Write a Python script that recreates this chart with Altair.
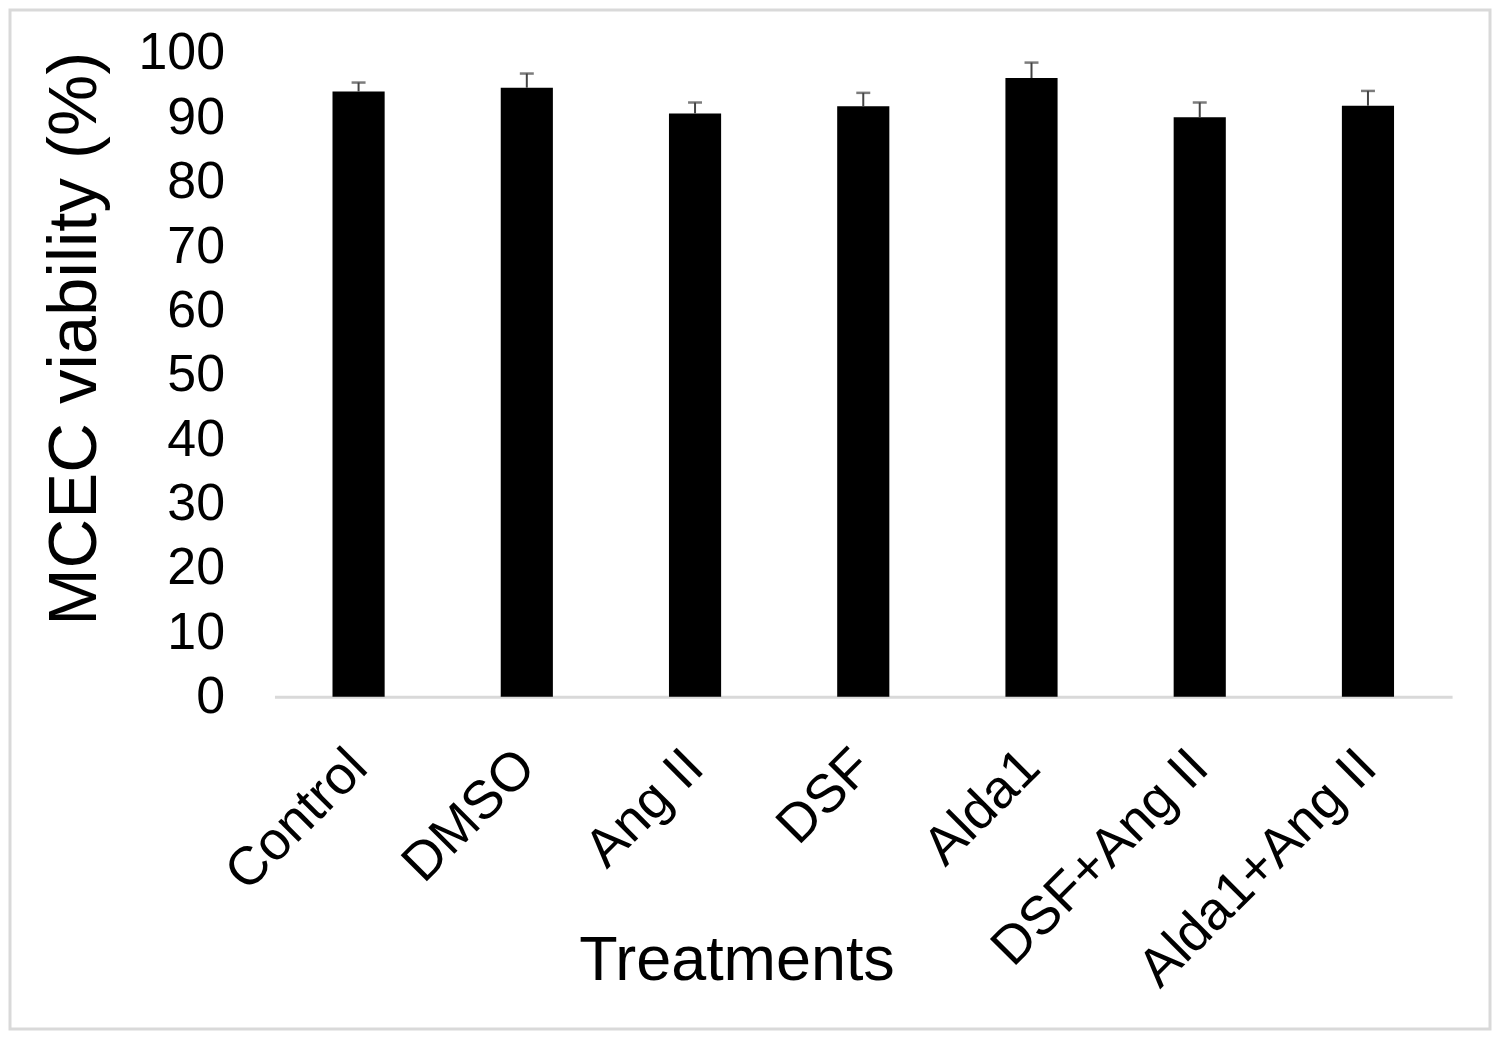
import altair as alt
import pandas as pd

treatments = ["Control", "DMSO", "Ang II", "DSF", "Alda1", "DSF+Ang II", "Alda1+Ang II"]
viability = [94.0, 94.6, 90.6, 91.7, 96.1, 90.0, 91.8]
sem = [1.4, 2.2, 1.7, 2.1, 2.4, 2.3, 2.3]

df = pd.DataFrame({"Treatment": treatments, "Viability": viability, "SEM": sem})

FONT = "Liberation Sans"

x_enc = alt.X(
    "Treatment:N",
    sort=treatments,
    scale=alt.Scale(paddingInner=0.69, paddingOuter=0.345),
    axis=alt.Axis(
        title="Treatments",
        titleFontSize=63,
        titleFont=FONT,
        titleFontWeight="normal",
        titleColor="#000000",
        titleX=463,
        titleY=283,
        titleAnchor="start",
        titleAlign="center",
        titleBaseline="alphabetic",
        labelAngle=-45,
        labelAlign="right",
        labelBaseline="middle",
        labelFontSize=54,
        labelFont=FONT,
        labelColor="#000000",
        labelPadding=62,
        labelLimit=0,
        labelOverlap=False,
        ticks=False,
        domain=True,
        domainColor="#d9d9d9",
        domainWidth=3,
        grid=False,
    ),
)

y_scale = alt.Scale(domain=[0, 100], nice=False)

bars = alt.Chart(df).mark_bar(color="#000000").encode(
    x=x_enc,
    y=alt.Y(
        "Viability:Q",
        scale=y_scale,
        axis=alt.Axis(
            title="MCEC viability (%)",
            titleFontSize=69,
            titleFont=FONT,
            titleFontWeight="normal",
            titleColor="#000000",
            titleAngle=-90,
            titleX=-200,
            titleY=286,
            titleAlign="center",
            titleBaseline="middle",
            values=list(range(0, 101, 10)),
            labelFontSize=52,
            labelFont=FONT,
            labelColor="#000000",
            labelPadding=50,
            ticks=False,
            domain=False,
            grid=False,
        ),
    ),
)

err_rule = alt.Chart(df).transform_calculate(
    upper="datum.Viability + datum.SEM"
).mark_rule(color="#444444", strokeWidth=2).encode(
    x=alt.X("Treatment:N", sort=treatments),
    y=alt.Y("Viability:Q", scale=y_scale),
    y2="upper:Q",
)

err_cap = alt.Chart(df).transform_calculate(
    upper="datum.Viability + datum.SEM"
).mark_tick(color="#444444", thickness=2.5, size=14, orient="horizontal").encode(
    x=alt.X("Treatment:N", sort=treatments),
    y=alt.Y("upper:Q", scale=y_scale),
)

frame = alt.Chart(pd.DataFrame({"k": [0]})).mark_rect(
    fill="transparent", stroke="#d9d9d9", strokeWidth=3, clip=False
).encode(
    x=alt.value(-265),
    x2=alt.value(1218),
    y=alt.value(-43),
    y2=alt.value(978),
)

chart = alt.layer(frame, bars, err_rule, err_cap).properties(
    width=1180,
    height=645,
    background="white",
    autosize=alt.AutoSizeParams(type="none"),
    padding={"left": 267, "top": 44, "right": 40, "bottom": 335},
).configure_view(strokeWidth=0, stroke="transparent")

chart.save("out.html", embed_options={"renderer": "svg", "actions": False})
